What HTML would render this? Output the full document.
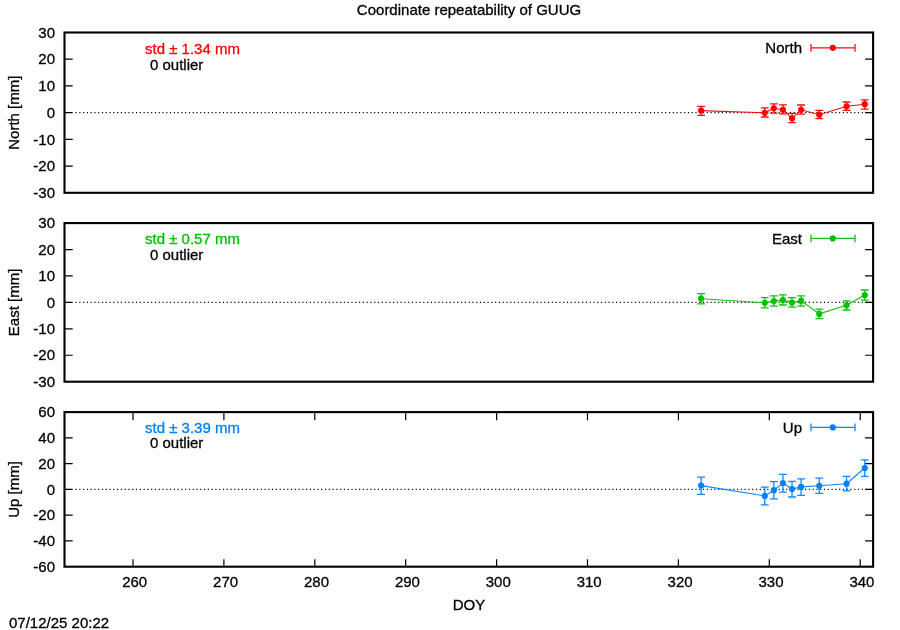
<!DOCTYPE html>
<html><head><meta charset="utf-8"><title>Coordinate repeatability of GUUG</title>
<style>
html,body{margin:0;padding:0;background:#fff;}
svg{display:block;will-change:transform;}
text{font-family:"Liberation Sans",Arial,Helvetica,sans-serif;font-size:15px;fill:#000;stroke:#000;stroke-width:0.3px;}
</style></head><body>
<svg width="900" height="630" viewBox="0 0 900 630">
<rect x="0" y="0" width="900" height="630" fill="#ffffff"/>

<text x="469" y="15" text-anchor="middle">Coordinate repeatability of GUUG</text>
<text x="55" y="198.00" text-anchor="end">-30</text>
<path d="M64.50 166.08H72.70M873.10 166.08H865.10" stroke="#000" stroke-width="1.20" fill="none"/>
<text x="55" y="171.28" text-anchor="end">-20</text>
<path d="M64.50 139.37H72.70M873.10 139.37H865.10" stroke="#000" stroke-width="1.20" fill="none"/>
<text x="55" y="144.57" text-anchor="end">-10</text>
<path d="M64.50 112.65H72.70M873.10 112.65H865.10" stroke="#000" stroke-width="1.20" fill="none"/>
<text x="55" y="117.85" text-anchor="end">0</text>
<path d="M64.50 85.93H72.70M873.10 85.93H865.10" stroke="#000" stroke-width="1.20" fill="none"/>
<text x="55" y="91.13" text-anchor="end">10</text>
<path d="M64.50 59.22H72.70M873.10 59.22H865.10" stroke="#000" stroke-width="1.20" fill="none"/>
<text x="55" y="64.42" text-anchor="end">20</text>
<text x="55" y="37.70" text-anchor="end">30</text>
<path d="M75.50 112.65H873.10" stroke="#000" stroke-width="1.1" stroke-dasharray="1.15 2.63" fill="none"/>
<rect x="64.50" y="32.50" width="808.60" height="160.30" fill="none" stroke="#000" stroke-width="2.1"/>
<text transform="translate(19.3,112.65) rotate(-90)" text-anchor="middle">North [mm]</text>
<text x="145" y="53.63" style="fill:#ff0000;stroke:#ff0000">std ± 1.34 mm</text>
<text x="150" y="69.66">0 outlier</text>
<text x="802" y="53.00" text-anchor="end">North</text>
<path d="M811 47.80H855M811 43.90V51.70M855 43.90V51.70" stroke="#ff0000" stroke-width="1.30" fill="none" opacity="0.95"/>
<circle cx="832.8" cy="47.80" r="3.1" fill="#ff0000"/>
<polyline points="701.12,110.60 764.75,112.80 773.85,108.30 782.93,109.80 792.02,118.30 801.12,109.80 819.29,114.70 846.56,106.30 864.75,104.20" stroke="#ff0000" stroke-width="1.15" fill="none" opacity="0.95"/>
<path d="M701.12 106.40V115.30M697.23 106.40H705.02M697.23 115.30H705.02" stroke="#ff0000" stroke-width="1.30" fill="none" opacity="0.95"/>
<circle cx="701.12" cy="110.60" r="3.1" fill="#ff0000"/>
<path d="M764.75 107.80V117.00M760.86 107.80H768.65M760.86 117.00H768.65" stroke="#ff0000" stroke-width="1.30" fill="none" opacity="0.95"/>
<circle cx="764.75" cy="112.80" r="3.1" fill="#ff0000"/>
<path d="M773.85 103.90V113.10M769.95 103.90H777.75M769.95 113.10H777.75" stroke="#ff0000" stroke-width="1.30" fill="none" opacity="0.95"/>
<circle cx="773.85" cy="108.30" r="3.1" fill="#ff0000"/>
<path d="M782.93 104.80V113.90M779.03 104.80H786.83M779.03 113.90H786.83" stroke="#ff0000" stroke-width="1.30" fill="none" opacity="0.95"/>
<circle cx="782.93" cy="109.80" r="3.1" fill="#ff0000"/>
<path d="M792.02 113.30V122.60M788.12 113.30H795.92M788.12 122.60H795.92" stroke="#ff0000" stroke-width="1.30" fill="none" opacity="0.95"/>
<circle cx="792.02" cy="118.30" r="3.1" fill="#ff0000"/>
<path d="M801.12 105.00V114.20M797.22 105.00H805.01M797.22 114.20H805.01" stroke="#ff0000" stroke-width="1.30" fill="none" opacity="0.95"/>
<circle cx="801.12" cy="109.80" r="3.1" fill="#ff0000"/>
<path d="M819.29 110.30V118.70M815.39 110.30H823.19M815.39 118.70H823.19" stroke="#ff0000" stroke-width="1.30" fill="none" opacity="0.95"/>
<circle cx="819.29" cy="114.70" r="3.1" fill="#ff0000"/>
<path d="M846.56 102.00V110.30M842.66 102.00H850.46M842.66 110.30H850.46" stroke="#ff0000" stroke-width="1.30" fill="none" opacity="0.95"/>
<circle cx="846.56" cy="106.30" r="3.1" fill="#ff0000"/>
<path d="M864.75 99.80V109.10M860.85 99.80H868.64M860.85 109.10H868.64" stroke="#ff0000" stroke-width="1.30" fill="none" opacity="0.95"/>
<circle cx="864.75" cy="104.20" r="3.1" fill="#ff0000"/>
<text x="55" y="386.90" text-anchor="end">-30</text>
<path d="M64.50 355.27H72.70M873.10 355.27H865.10" stroke="#000" stroke-width="1.20" fill="none"/>
<text x="55" y="360.47" text-anchor="end">-20</text>
<path d="M64.50 328.83H72.70M873.10 328.83H865.10" stroke="#000" stroke-width="1.20" fill="none"/>
<text x="55" y="334.03" text-anchor="end">-10</text>
<path d="M64.50 302.40H72.70M873.10 302.40H865.10" stroke="#000" stroke-width="1.20" fill="none"/>
<text x="55" y="307.60" text-anchor="end">0</text>
<path d="M64.50 275.97H72.70M873.10 275.97H865.10" stroke="#000" stroke-width="1.20" fill="none"/>
<text x="55" y="281.17" text-anchor="end">10</text>
<path d="M64.50 249.53H72.70M873.10 249.53H865.10" stroke="#000" stroke-width="1.20" fill="none"/>
<text x="55" y="254.73" text-anchor="end">20</text>
<text x="55" y="228.30" text-anchor="end">30</text>
<path d="M75.50 302.40H873.10" stroke="#000" stroke-width="1.1" stroke-dasharray="1.15 2.63" fill="none"/>
<rect x="64.50" y="223.10" width="808.60" height="158.60" fill="none" stroke="#000" stroke-width="2.1"/>
<text transform="translate(19.3,302.40) rotate(-90)" text-anchor="middle">East [mm]</text>
<text x="145" y="244.06" style="fill:#00c000;stroke:#00c000">std ± 0.57 mm</text>
<text x="150" y="259.92">0 outlier</text>
<text x="802" y="243.60" text-anchor="end">East</text>
<path d="M811 238.40H855M811 234.50V242.30M855 234.50V242.30" stroke="#00c000" stroke-width="1.30" fill="none" opacity="0.95"/>
<circle cx="832.8" cy="238.40" r="3.1" fill="#00c000"/>
<polyline points="701.12,298.70 764.75,302.80 773.85,301.10 782.93,300.00 792.02,302.60 801.12,300.90 819.29,313.90 846.56,305.30 864.75,295.00" stroke="#00c000" stroke-width="1.15" fill="none" opacity="0.95"/>
<path d="M701.12 293.70V303.90M697.23 293.70H705.02M697.23 303.90H705.02" stroke="#00c000" stroke-width="1.30" fill="none" opacity="0.95"/>
<circle cx="701.12" cy="298.70" r="3.1" fill="#00c000"/>
<path d="M764.75 297.60V307.80M760.86 297.60H768.65M760.86 307.80H768.65" stroke="#00c000" stroke-width="1.30" fill="none" opacity="0.95"/>
<circle cx="764.75" cy="302.80" r="3.1" fill="#00c000"/>
<path d="M773.85 295.90V306.10M769.95 295.90H777.75M769.95 306.10H777.75" stroke="#00c000" stroke-width="1.30" fill="none" opacity="0.95"/>
<circle cx="773.85" cy="301.10" r="3.1" fill="#00c000"/>
<path d="M782.93 294.80V305.00M779.03 294.80H786.83M779.03 305.00H786.83" stroke="#00c000" stroke-width="1.30" fill="none" opacity="0.95"/>
<circle cx="782.93" cy="300.00" r="3.1" fill="#00c000"/>
<path d="M792.02 297.60V307.20M788.12 297.60H795.92M788.12 307.20H795.92" stroke="#00c000" stroke-width="1.30" fill="none" opacity="0.95"/>
<circle cx="792.02" cy="302.60" r="3.1" fill="#00c000"/>
<path d="M801.12 295.90V306.10M797.22 295.90H805.01M797.22 306.10H805.01" stroke="#00c000" stroke-width="1.30" fill="none" opacity="0.95"/>
<circle cx="801.12" cy="300.90" r="3.1" fill="#00c000"/>
<path d="M819.29 309.10V318.70M815.39 309.10H823.19M815.39 318.70H823.19" stroke="#00c000" stroke-width="1.30" fill="none" opacity="0.95"/>
<circle cx="819.29" cy="313.90" r="3.1" fill="#00c000"/>
<path d="M846.56 300.90V310.00M842.66 300.90H850.46M842.66 310.00H850.46" stroke="#00c000" stroke-width="1.30" fill="none" opacity="0.95"/>
<circle cx="846.56" cy="305.30" r="3.1" fill="#00c000"/>
<path d="M864.75 290.00V300.20M860.85 290.00H868.64M860.85 300.20H868.64" stroke="#00c000" stroke-width="1.30" fill="none" opacity="0.95"/>
<circle cx="864.75" cy="295.00" r="3.1" fill="#00c000"/>
<text x="55" y="571.90" text-anchor="end">-60</text>
<path d="M64.50 540.93H72.70M873.10 540.93H865.10" stroke="#000" stroke-width="1.20" fill="none"/>
<text x="55" y="546.13" text-anchor="end">-40</text>
<path d="M64.50 515.17H72.70M873.10 515.17H865.10" stroke="#000" stroke-width="1.20" fill="none"/>
<text x="55" y="520.37" text-anchor="end">-20</text>
<path d="M64.50 489.40H72.70M873.10 489.40H865.10" stroke="#000" stroke-width="1.20" fill="none"/>
<text x="55" y="494.60" text-anchor="end">0</text>
<path d="M64.50 463.63H72.70M873.10 463.63H865.10" stroke="#000" stroke-width="1.20" fill="none"/>
<text x="55" y="468.83" text-anchor="end">20</text>
<path d="M64.50 437.87H72.70M873.10 437.87H865.10" stroke="#000" stroke-width="1.20" fill="none"/>
<text x="55" y="443.07" text-anchor="end">40</text>
<text x="55" y="417.30" text-anchor="end">60</text>
<path d="M75.50 489.40H873.10" stroke="#000" stroke-width="1.1" stroke-dasharray="1.15 2.63" fill="none"/>
<rect x="64.50" y="412.10" width="808.60" height="154.60" fill="none" stroke="#000" stroke-width="2.1"/>
<text transform="translate(19.3,489.40) rotate(-90)" text-anchor="middle">Up [mm]</text>
<text x="145" y="432.66" style="fill:#0080ff;stroke:#0080ff">std ± 3.39 mm</text>
<text x="150" y="448.12">0 outlier</text>
<text x="802" y="432.60" text-anchor="end">Up</text>
<path d="M811 427.40H855M811 423.50V431.30M855 423.50V431.30" stroke="#0080ff" stroke-width="1.30" fill="none" opacity="0.95"/>
<circle cx="832.8" cy="427.40" r="3.1" fill="#0080ff"/>
<polyline points="701.12,485.60 764.75,495.90 773.85,490.20 782.93,483.10 792.02,489.10 801.12,486.90 819.29,485.80 846.56,483.70 864.75,468.00" stroke="#0080ff" stroke-width="1.15" fill="none" opacity="0.95"/>
<path d="M701.12 477.20V494.40M697.23 477.20H705.02M697.23 494.40H705.02" stroke="#0080ff" stroke-width="1.30" fill="none" opacity="0.95"/>
<circle cx="701.12" cy="485.60" r="3.1" fill="#0080ff"/>
<path d="M764.75 487.20V504.80M760.86 487.20H768.65M760.86 504.80H768.65" stroke="#0080ff" stroke-width="1.30" fill="none" opacity="0.95"/>
<circle cx="764.75" cy="495.90" r="3.1" fill="#0080ff"/>
<path d="M773.85 481.70V498.90M769.95 481.70H777.75M769.95 498.90H777.75" stroke="#0080ff" stroke-width="1.30" fill="none" opacity="0.95"/>
<circle cx="773.85" cy="490.20" r="3.1" fill="#0080ff"/>
<path d="M782.93 474.40V492.20M779.03 474.40H786.83M779.03 492.20H786.83" stroke="#0080ff" stroke-width="1.30" fill="none" opacity="0.95"/>
<circle cx="782.93" cy="483.10" r="3.1" fill="#0080ff"/>
<path d="M792.02 481.40V497.00M788.12 481.40H795.92M788.12 497.00H795.92" stroke="#0080ff" stroke-width="1.30" fill="none" opacity="0.95"/>
<circle cx="792.02" cy="489.10" r="3.1" fill="#0080ff"/>
<path d="M801.12 478.90V495.30M797.22 478.90H805.01M797.22 495.30H805.01" stroke="#0080ff" stroke-width="1.30" fill="none" opacity="0.95"/>
<circle cx="801.12" cy="486.90" r="3.1" fill="#0080ff"/>
<path d="M819.29 478.10V493.30M815.39 478.10H823.19M815.39 493.30H823.19" stroke="#0080ff" stroke-width="1.30" fill="none" opacity="0.95"/>
<circle cx="819.29" cy="485.80" r="3.1" fill="#0080ff"/>
<path d="M846.56 476.40V490.90M842.66 476.40H850.46M842.66 490.90H850.46" stroke="#0080ff" stroke-width="1.30" fill="none" opacity="0.95"/>
<circle cx="846.56" cy="483.70" r="3.1" fill="#0080ff"/>
<path d="M864.75 459.80V476.40M860.85 459.80H868.64M860.85 476.40H868.64" stroke="#0080ff" stroke-width="1.30" fill="none" opacity="0.95"/>
<circle cx="864.75" cy="468.00" r="3.1" fill="#0080ff"/>
<path d="M133.00 566.70V559.20M133.00 412.10V420.30" stroke="#000" stroke-width="1.20" fill="none"/>
<text x="134.70" y="587.2" text-anchor="middle">260</text>
<path d="M223.90 566.70V559.20M223.90 412.10V420.30" stroke="#000" stroke-width="1.20" fill="none"/>
<text x="225.60" y="587.2" text-anchor="middle">270</text>
<path d="M314.80 566.70V559.20M314.80 412.10V420.30" stroke="#000" stroke-width="1.20" fill="none"/>
<text x="316.50" y="587.2" text-anchor="middle">280</text>
<path d="M405.70 566.70V559.20M405.70 412.10V420.30" stroke="#000" stroke-width="1.20" fill="none"/>
<text x="407.40" y="587.2" text-anchor="middle">290</text>
<path d="M496.60 566.70V559.20M496.60 412.10V420.30" stroke="#000" stroke-width="1.20" fill="none"/>
<text x="498.30" y="587.2" text-anchor="middle">300</text>
<path d="M587.50 566.70V559.20M587.50 412.10V420.30" stroke="#000" stroke-width="1.20" fill="none"/>
<text x="589.20" y="587.2" text-anchor="middle">310</text>
<path d="M678.40 566.70V559.20M678.40 412.10V420.30" stroke="#000" stroke-width="1.20" fill="none"/>
<text x="680.10" y="587.2" text-anchor="middle">320</text>
<path d="M769.30 566.70V559.20M769.30 412.10V420.30" stroke="#000" stroke-width="1.20" fill="none"/>
<text x="771.00" y="587.2" text-anchor="middle">330</text>
<path d="M860.20 566.70V559.20M860.20 412.10V420.30" stroke="#000" stroke-width="1.20" fill="none"/>
<text x="861.90" y="587.2" text-anchor="middle">340</text>
<text x="469" y="610" text-anchor="middle">DOY</text>
<text x="9" y="627.7">07/12/25 20:22</text>
</svg></body></html>
